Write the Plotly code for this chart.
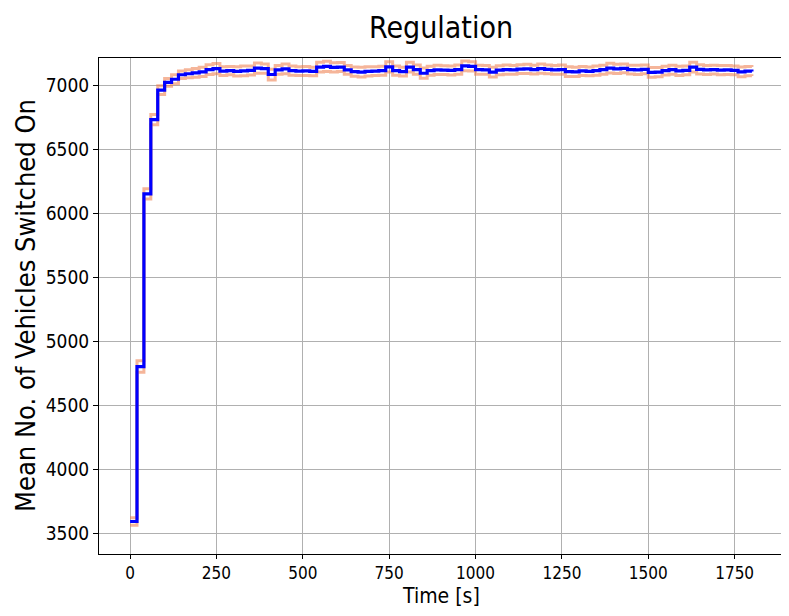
import plotly.graph_objects as go

# time axis, one sample every 20 s
time_s = list(range(0, 1801, 20))

mean_on = [
    3590, 4800, 6150, 6730, 6960, 7020, 7045, 7080, 7088, 7095,
    7102, 7120, 7128, 7108, 7112, 7106, 7110, 7114, 7132, 7128,
    7082, 7118, 7126, 7112, 7108, 7110, 7106, 7140, 7145, 7138,
    7140, 7118, 7104, 7100, 7106, 7108, 7112, 7142, 7112, 7104,
    7140, 7120, 7092, 7112, 7118, 7116, 7114, 7120, 7150, 7145,
    7120, 7118, 7100, 7116, 7120, 7118, 7124, 7126, 7120, 7128,
    7122, 7118, 7120, 7104, 7102, 7110, 7106, 7112, 7120, 7132,
    7126, 7130, 7120, 7118, 7122, 7098, 7100, 7112, 7120, 7110,
    7114, 7140, 7122, 7118, 7120, 7116, 7118, 7114, 7102, 7108,
    7106,
]

# half width of the confidence band around the mean
ci_half = [
    30, 45, 40, 40, 35, 30, 35, 30, 32, 34,
    36, 38, 40, 34, 32, 36, 38, 35, 40, 36,
    42, 34, 38, 36, 34, 35, 33, 38, 40, 36,
    35, 34, 36, 38, 36, 34, 35, 40, 36, 34,
    38, 36, 40, 35, 36, 34, 35, 36, 38, 36,
    35, 34, 38, 35, 36, 34, 35, 36, 34, 36,
    35, 34, 36, 38, 36, 35, 34, 36, 35, 38,
    36, 35, 34, 36, 35, 38, 36, 34, 35, 36,
    34, 38, 36, 35, 34, 36, 35, 34, 38, 36,
    35,
]

upper = [m + c for m, c in zip(mean_on, ci_half)]
lower = [m - c for m, c in zip(mean_on, ci_half)]

band_color = "rgba(236,120,70,0.55)"
font_family = "DejaVu Sans Condensed, DejaVu Sans"

fig = go.Figure()
for bound in (upper, lower):
    fig.add_trace(
        go.Scatter(
            x=time_s,
            y=bound,
            mode="lines",
            line=dict(color=band_color, width=3, shape="hv"),
            showlegend=False,
        )
    )
fig.add_trace(
    go.Scatter(
        x=time_s,
        y=mean_on,
        mode="lines",
        line=dict(color="#0000ff", width=3.2, shape="hv"),
        showlegend=False,
    )
)

axis_common = dict(
    showline=True,
    linecolor="black",
    linewidth=1,
    mirror=True,
    showgrid=True,
    gridcolor="#b0b0b0",
    gridwidth=1,
    ticks="outside",
    tickcolor="black",
    zeroline=False,
    automargin=False,
)

# the page body adds an 8px margin, so the figure is sized to fit inside it
fig.update_layout(
    width=781,
    height=600,
    margin=dict(l=91, r=6, t=50, b=54),
    plot_bgcolor="white",
    paper_bgcolor="white",
    xaxis=dict(
        range=[-90, 1890],
        tickvals=[0, 250, 500, 750, 1000, 1250, 1500, 1750],
        ticklen=4,
        tickfont=dict(family=font_family, size=17, color="black"),
        **axis_common,
    ),
    yaxis=dict(
        range=[3336, 7211],
        tickvals=[3500, 4000, 4500, 5000, 5500, 6000, 6500, 7000],
        ticklen=5,
        tickfont=dict(family=font_family, size=19, color="black"),
        **axis_common,
    ),
    annotations=[
        dict(
            text="Regulation",
            xref="paper", yref="paper",
            x=0.5, y=1, yshift=50,
            xanchor="center", yanchor="top",
            showarrow=False,
            font=dict(family=font_family, size=30, color="black"),
        ),
        dict(
            text="Time [s]",
            xref="paper", yref="paper",
            x=0.5, y=0, yshift=-56,
            xanchor="center", yanchor="bottom",
            showarrow=False,
            font=dict(family=font_family, size=21, color="black"),
        ),
        dict(
            text="Mean No. of Vehicles Switched On",
            xref="paper", yref="paper",
            x=0, xshift=-74, y=0.5,
            xanchor="center", yanchor="middle",
            textangle=-90,
            showarrow=False,
            font=dict(family=font_family, size=27, color="black"),
        ),
    ],
)

fig.write_html("out.html")
